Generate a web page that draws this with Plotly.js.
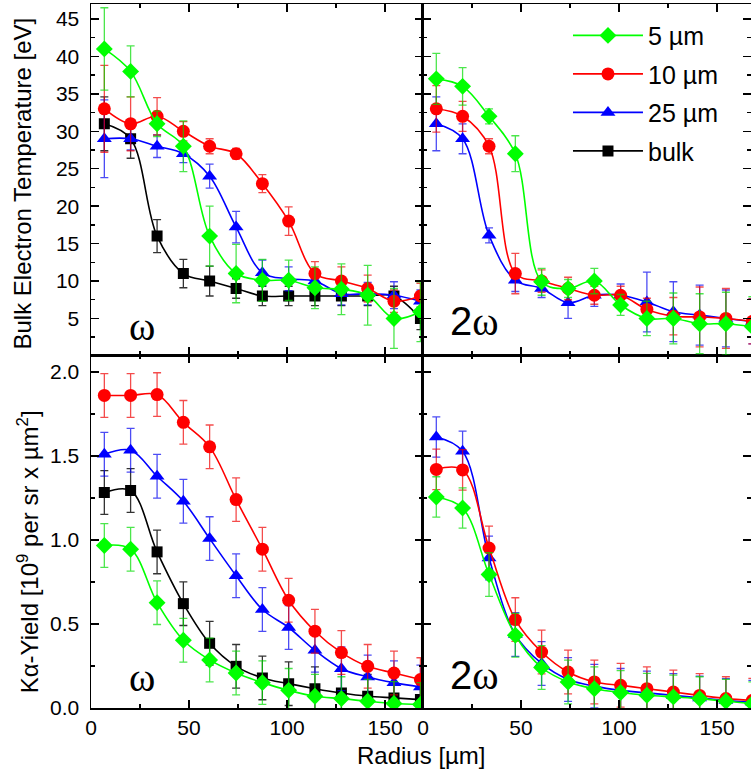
<!DOCTYPE html>
<html>
<head>
<meta charset="utf-8">
<script src="https://cdn.plot.ly/plotly-3.0.1.min.js"></script>
<style>html,body{margin:0;padding:0;background:#fff;}#chart{width:751px;height:778px;}</style>
</head>
<body>
<div id="chart"></div>
<script>
// Radius positions [µm]
const radius = [6.8, 20.2, 33.7, 47.1, 60.5, 74.0, 87.4, 100.8, 114.2, 127.7, 141.1, 154.5, 168.0];

// Series names
const seriesNames = ["bulk", "25 µm", "10 µm", "5 µm"];

// Top-left (ω): bulk electron temperature [eV]
const tempW_5 = [41, 38, 31, 28, 16, 11, 10.1, 10.1, 9.1, 8.9, 8.1, 5.0, 5.9];
const tempW_5_err = [5.5, 3.4, 1.7, 3.4, 4.0, 3.9, 2.8, 2.7, 2.8, 3.4, 4.0, 4.0, 4.0];
const tempW_10 = [33, 31, 32, 30, 28, 27, 23, 18, 11, 10, 9, 7.3, 8];
const tempW_10_err = [5.8, 3.6, 2.5, 1.3, 1.0, 0.7, 1.2, 1.9, 1.6, 1.9, 1.8, 1.5, 1.7];
const tempW_25 = [29, 29, 28, 27, 24, 17.2, 11.1, 10.3, 10.0, 8.3, 8.3, 8.1, 7.3];
const tempW_25_err = [5.2, 1.5, 1.5, 1.2, 1.6, 2.1, 1.7, 1.6, 1.5, 1.5, 1.5, 1.8, 1.5];
const tempW_bulk = [31, 29, 16, 11, 10, 9, 8, 8, 8, 8, 8, 8, 5.0];
const tempW_bulk_err = [3.6, 2.6, 2.2, 1.9, 2.0, 1.3, 1.3, 1.3, 1.3, 1.3, 1.3, 1.3, 1.5];

// Top-right (2ω)
const temp2W_5 = [37, 36, 32, 27, 9.9, 9.0, 10.0, 6.8, 5.0, 5.0, 4.3, 4.3, 3.9];
const temp2W_5_err = [3.4, 2.5, 1.0, 2.4, 1.8, 1.2, 1.7, 1.4, 2.3, 3.4, 4.0, 4.2, 4.0];
const temp2W_10 = [33, 32, 28, 11, 10.0, 9.0, 8.1, 8.1, 6.2, 5.3, 5.2, 5.0, 4.6];
const temp2W_10_err = [3.1, 2.0, 1.0, 2.7, 1.5, 1.5, 1.2, 1.2, 1.5, 2.5, 4.0, 4.0, 3.0];
const temp2W_25 = [31, 29, 16.1, 10.1, 9.0, 7.1, 8.1, 8.1, 7.2, 5.9, 5.45, 5.0, 4.6];
const temp2W_25_err = [3.6, 2.0, 1.0, 1.5, 1.2, 2.1, 1.5, 1.5, 4.0, 4.0, 4.0, 3.8, 3.0];

// Bottom-left (ω): Kα yield [1e9 per sr x µm²]
const yieldW_5 = [0.967, 0.945, 0.627, 0.403, 0.286, 0.208, 0.151, 0.105, 0.070, 0.056, 0.040, 0.027, 0.021];
const yieldW_10 = [1.86, 1.86, 1.865, 1.70, 1.554, 1.24, 0.945, 0.641, 0.457, 0.33, 0.248, 0.208, 0.169];
const yieldW_25 = [1.51, 1.534, 1.379, 1.23, 1.008, 0.787, 0.586, 0.479, 0.343, 0.234, 0.185, 0.151, 0.125];
const yieldW_bulk = [1.282, 1.294, 0.929, 0.621, 0.385, 0.248, 0.179, 0.145, 0.115, 0.089, 0.070, 0.060, 0.050];
const yieldW_err = [0.13, 0.13, 0.13, 0.13, 0.13, 0.13, 0.13, 0.13, 0.13, 0.13, 0.13, 0.13, 0.13];

// Bottom-right (2ω)
const yield2W_5 = [1.256, 1.19, 0.794, 0.433, 0.241, 0.155, 0.115, 0.092, 0.076, 0.066, 0.056, 0.040, 0.026];
const yield2W_10 = [1.42, 1.417, 0.952, 0.526, 0.333, 0.214, 0.155, 0.135, 0.115, 0.095, 0.075, 0.056, 0.046];
const yield2W_25 = [1.613, 1.528, 0.893, 0.437, 0.265, 0.170, 0.130, 0.105, 0.090, 0.075, 0.060, 0.045, 0.035];
const yield2W_err = [0.12, 0.12, 0.13, 0.13, 0.13, 0.13, 0.13, 0.13, 0.13, 0.13, 0.13, 0.13, 0.13];

// Tick values
const tempTicks = [5, 10, 15, 20, 25, 30, 35, 40, 45];
const yieldTicks = [0, 0.5, 1.0, 1.5, 2.0];
const radiusTicks = [0, 50, 100, 150];

const style = {
  "5 µm":  {color: "#00ff00", err: "rgba(0,220,0,0.7)", symbol: "diamond", size: 13, rank: 1},
  "10 µm": {color: "#ff0000", err: "rgba(240,0,0,0.7)", symbol: "circle", size: 13, rank: 2},
  "25 µm": {color: "#0000ff", err: "rgba(0,0,240,0.7)", symbol: "triangle-up", size: 13, rank: 3},
  "bulk":  {color: "#000000", err: "rgba(0,0,0,0.8)", symbol: "square", size: 11, rank: 4}
};

function tr(name, xs, ys, errs, xa, ya, showLegend) {
  const s = style[name];
  return {
    type: "scatter", mode: "lines+markers", name: name,
    x: xs, y: ys, xaxis: xa, yaxis: ya,
    showlegend: showLegend, legendgroup: name, legendrank: s.rank,
    line: {color: s.color, width: 1.6, shape: "spline", smoothing: 1.0},
    marker: {color: s.color, symbol: s.symbol, size: s.size, line: {width: 0}},
    error_y: {type: "data", array: errs, visible: true, color: s.err, thickness: 1.3, width: 4}
  };
}

const data = [
  // top-left ω
  tr("bulk", radius, tempW_bulk, tempW_bulk_err, "x3", "y3", true),
  tr("25 µm", radius, tempW_25, tempW_25_err, "x3", "y3", true),
  tr("10 µm", radius, tempW_10, tempW_10_err, "x3", "y3", true),
  tr("5 µm", radius, tempW_5, tempW_5_err, "x3", "y3", true),
  // top-right 2ω
  tr("25 µm", radius, temp2W_25, temp2W_25_err, "x4", "y4", false),
  tr("10 µm", radius, temp2W_10, temp2W_10_err, "x4", "y4", false),
  tr("5 µm", radius, temp2W_5, temp2W_5_err, "x4", "y4", false),
  // bottom-left ω
  tr("bulk", radius, yieldW_bulk, yieldW_err, "x", "y", false),
  tr("25 µm", radius, yieldW_25, yieldW_err, "x", "y", false),
  tr("10 µm", radius, yieldW_10, yieldW_err, "x", "y", false),
  tr("5 µm", radius, yieldW_5, yieldW_err, "x", "y", false),
  // bottom-right 2ω
  tr("25 µm", radius, yield2W_25, yield2W_err, "x2", "y2", false),
  tr("10 µm", radius, yield2W_10, yield2W_err, "x2", "y2", false),
  tr("5 µm", radius, yield2W_5, yield2W_err, "x2", "y2", false)
];

const FONT = "Liberation Sans, Arial, sans-serif";
const tickFont = {family: FONT, size: 21, color: "#000"};

function axisBase(extra) {
  return Object.assign({
    showline: true, linecolor: "#000", linewidth: 1.5, mirror: "ticks",
    ticks: "inside", ticklen: 8, tickwidth: 1.5, tickcolor: "#000",
    showgrid: false, zeroline: false, tickfont: tickFont, fixedrange: true
  }, extra);
}

const L = [0, 0.503], R = [0.503, 1];
const B = [0, 0.5008], T = [0.5008, 1];
const minorX = {ticks: "inside", ticklen: 4, tickwidth: 1.5, dtick: 25, tick0: 0, tickcolor: "#000"};
const minorYB = {ticks: "inside", ticklen: 4, tickwidth: 1.5, dtick: 0.25, tick0: 0, tickcolor: "#000"};
const minorYT = {ticks: "inside", ticklen: 4, tickwidth: 1.5, dtick: 2.5, tick0: 0, tickcolor: "#000"};

const layout = {
  width: 751, height: 778,
  margin: {l: 91, r: 0, t: 4, b: 70},
  paper_bgcolor: "#fff", plot_bgcolor: "#fff",
  font: {family: FONT, color: "#000"},
  xaxis: axisBase({domain: L, anchor: "y", range: [0, 169.3], tickmode: "array", tickvals: radiusTicks, minor: minorX, ticklabelstandoff: 0}),
  xaxis2: axisBase({domain: R, anchor: "y2", range: [0, 167.3], tickmode: "array", tickvals: radiusTicks, minor: minorX, ticklabelstandoff: 0}),
  xaxis3: axisBase({domain: L, anchor: "y3", range: [0, 169.3], tickmode: "array", tickvals: radiusTicks, showticklabels: false, minor: minorX}),
  xaxis4: axisBase({domain: R, anchor: "y4", range: [0, 167.3], tickmode: "array", tickvals: radiusTicks, showticklabels: false, minor: minorX}),
  yaxis: axisBase({domain: B, anchor: "x", range: [0, 2.098], tickmode: "array", tickvals: yieldTicks, tickformat: ".1f", minor: minorYB, ticklabelstandoff: 6}),
  yaxis2: axisBase({domain: B, anchor: "x2", range: [0, 2.098], tickmode: "array", tickvals: yieldTicks, showticklabels: false, minor: minorYB}),
  yaxis3: axisBase({domain: T, anchor: "x3", range: [0.06, 47.0], tickmode: "array", tickvals: tempTicks, minor: minorYT, ticklabelstandoff: 6}),
  yaxis4: axisBase({domain: T, anchor: "x4", range: [0.06, 47.0], tickmode: "array", tickvals: tempTicks, showticklabels: false, minor: minorYT}),
  showlegend: true,
  legend: {
    x: 0.7227, y: 0.9877, xanchor: "left", yanchor: "top",
    bgcolor: "rgba(0,0,0,0)", borderwidth: 0,
    font: {family: FONT, size: 25, color: "#000"},
    traceorder: "grouped", itemwidth: 70, tracegroupgap: 3
  },
  annotations: [
    {text: "Bulk Electron Temperature [eV]", xref: "paper", yref: "paper", x: -0.103, y: 0.745,
     textangle: -90, showarrow: false, xanchor: "center", yanchor: "middle", font: {family: FONT, size: 24, color: "#000"}},
    {text: "K\u03b1-Yield [10<sup>9</sup> per sr x \u00b5m<sup>2</sup>]", xref: "paper", yref: "paper", x: -0.096, y: 0.222,
     textangle: -90, showarrow: false, xanchor: "center", yanchor: "middle", font: {family: FONT, size: 24, color: "#000"}},
    {text: "Radius [\u00b5m]", xref: "paper", yref: "paper", x: 0.5, y: -0.068,
     showarrow: false, xanchor: "center", yanchor: "middle", font: {family: FONT, size: 24, color: "#000"}},
    {text: "\u03c9", xref: "paper", yref: "paper", x: (142 - 91) / 660, y: 1 - (326 - 4) / 703.7,
     showarrow: false, xanchor: "center", yanchor: "middle", font: {family: "Liberation Serif, Times New Roman, serif", size: 40, color: "#000"}},
    {text: "\u03c9", xref: "paper", yref: "paper", x: (142 - 91) / 660, y: 1 - (677 - 4) / 703.7,
     showarrow: false, xanchor: "center", yanchor: "middle", font: {family: "Liberation Serif, Times New Roman, serif", size: 40, color: "#000"}},
    {text: "2<span style=\"font-family:Liberation Serif\">\u03c9</span>", xref: "paper", yref: "paper", x: (474 - 91) / 660, y: 1 - (321 - 4) / 703.7,
     showarrow: false, xanchor: "center", yanchor: "middle", font: {family: FONT, size: 40, color: "#000"}},
    {text: "2<span style=\"font-family:Liberation Serif\">\u03c9</span>", xref: "paper", yref: "paper", x: (474 - 91) / 660, y: 1 - (675 - 4) / 703.7,
     showarrow: false, xanchor: "center", yanchor: "middle", font: {family: FONT, size: 40, color: "#000"}}
  ]
};

Plotly.newPlot("chart", data, layout, {displayModeBar: false, staticPlot: true});
</script>
</body>
</html>
